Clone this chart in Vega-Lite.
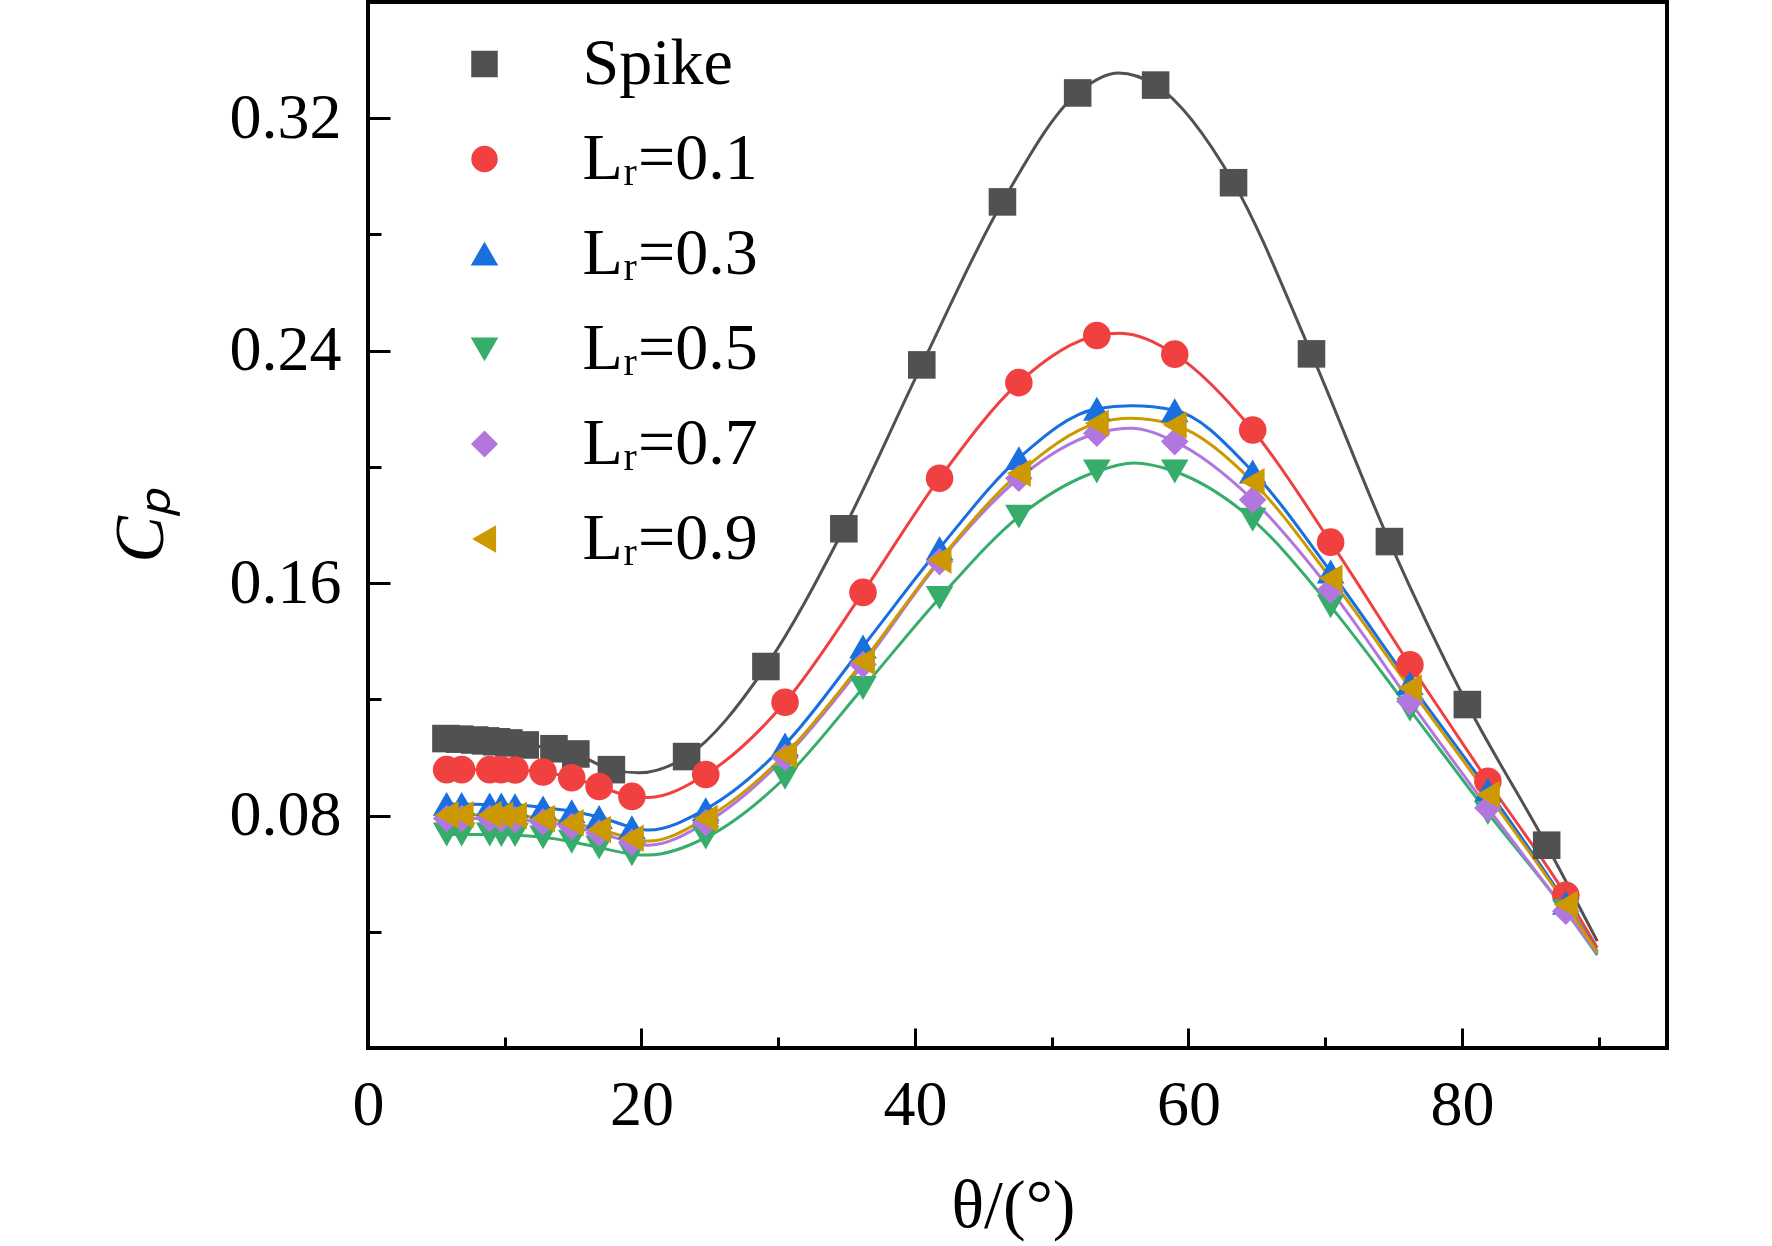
{
  "$schema": "https://vega.github.io/schema/vega-lite/v6.json",
  "description": "Pressure coefficient Cp against theta for the spike and five Lr cases",
  "width": 1299,
  "height": 1046,
  "autosize": "none",
  "padding": {"left": 368, "top": 2, "right": 105, "bottom": 198},
  "background": "white",
  "datasets": {
    "markers": [
      {"series": "Spike", "theta": 5.7, "cp": 0.1065},
      {"series": "Spike", "theta": 6.7, "cp": 0.1063},
      {"series": "Spike", "theta": 7.8, "cp": 0.1060},
      {"series": "Spike", "theta": 8.6, "cp": 0.1057},
      {"series": "Spike", "theta": 9.4, "cp": 0.1054},
      {"series": "Spike", "theta": 10.3, "cp": 0.1050},
      {"series": "Spike", "theta": 11.5, "cp": 0.1043},
      {"series": "Spike", "theta": 13.6, "cp": 0.1030},
      {"series": "Spike", "theta": 15.2, "cp": 0.1012},
      {"series": "Spike", "theta": 17.8, "cp": 0.0958},
      {"series": "Spike", "theta": 23.3, "cp": 0.1003},
      {"series": "Spike", "theta": 29.1, "cp": 0.1313},
      {"series": "Spike", "theta": 34.8, "cp": 0.1787},
      {"series": "Spike", "theta": 40.5, "cp": 0.2351},
      {"series": "Spike", "theta": 46.4, "cp": 0.2912},
      {"series": "Spike", "theta": 51.9, "cp": 0.3287},
      {"series": "Spike", "theta": 57.6, "cp": 0.3314},
      {"series": "Spike", "theta": 63.3, "cp": 0.2978},
      {"series": "Spike", "theta": 69.0, "cp": 0.2389},
      {"series": "Spike", "theta": 74.7, "cp": 0.1743},
      {"series": "Spike", "theta": 80.4, "cp": 0.1182},
      {"series": "Spike", "theta": 86.2, "cp": 0.0698},

      {"series": "Lᵣ=0.1", "theta": 5.75, "cp": 0.0958},
      {"series": "Lᵣ=0.1", "theta": 6.85, "cp": 0.0958},
      {"series": "Lᵣ=0.1", "theta": 8.9, "cp": 0.0958},
      {"series": "Lᵣ=0.1", "theta": 9.75, "cp": 0.0958},
      {"series": "Lᵣ=0.1", "theta": 10.75, "cp": 0.0957},
      {"series": "Lᵣ=0.1", "theta": 12.8, "cp": 0.0950},
      {"series": "Lᵣ=0.1", "theta": 14.9, "cp": 0.0930},
      {"series": "Lᵣ=0.1", "theta": 16.9, "cp": 0.0900},
      {"series": "Lᵣ=0.1", "theta": 19.3, "cp": 0.0866},
      {"series": "Lᵣ=0.1", "theta": 24.7, "cp": 0.0941},
      {"series": "Lᵣ=0.1", "theta": 30.5, "cp": 0.1190},
      {"series": "Lᵣ=0.1", "theta": 36.2, "cp": 0.1568},
      {"series": "Lᵣ=0.1", "theta": 41.8, "cp": 0.1961},
      {"series": "Lᵣ=0.1", "theta": 47.6, "cp": 0.2290},
      {"series": "Lᵣ=0.1", "theta": 53.3, "cp": 0.2452},
      {"series": "Lᵣ=0.1", "theta": 59.0, "cp": 0.2388},
      {"series": "Lᵣ=0.1", "theta": 64.7, "cp": 0.2127},
      {"series": "Lᵣ=0.1", "theta": 70.4, "cp": 0.1741},
      {"series": "Lᵣ=0.1", "theta": 76.2, "cp": 0.1319},
      {"series": "Lᵣ=0.1", "theta": 81.9, "cp": 0.0918},
      {"series": "Lᵣ=0.1", "theta": 87.6, "cp": 0.0526},

      {"series": "Lᵣ=0.3", "theta": 5.75, "cp": 0.0840},
      {"series": "Lᵣ=0.3", "theta": 6.85, "cp": 0.0840},
      {"series": "Lᵣ=0.3", "theta": 8.9, "cp": 0.0838},
      {"series": "Lᵣ=0.3", "theta": 9.75, "cp": 0.0838},
      {"series": "Lᵣ=0.3", "theta": 10.75, "cp": 0.0836},
      {"series": "Lᵣ=0.3", "theta": 12.8, "cp": 0.0828},
      {"series": "Lᵣ=0.3", "theta": 14.9, "cp": 0.0815},
      {"series": "Lᵣ=0.3", "theta": 16.9, "cp": 0.0795},
      {"series": "Lᵣ=0.3", "theta": 19.3, "cp": 0.0760},
      {"series": "Lᵣ=0.3", "theta": 24.7, "cp": 0.0822},
      {"series": "Lᵣ=0.3", "theta": 30.5, "cp": 0.1045},
      {"series": "Lᵣ=0.3", "theta": 36.2, "cp": 0.1382},
      {"series": "Lᵣ=0.3", "theta": 41.8, "cp": 0.1720},
      {"series": "Lᵣ=0.3", "theta": 47.6, "cp": 0.2030},
      {"series": "Lᵣ=0.3", "theta": 53.3, "cp": 0.2200},
      {"series": "Lᵣ=0.3", "theta": 59.0, "cp": 0.2195},
      {"series": "Lᵣ=0.3", "theta": 64.7, "cp": 0.1984},
      {"series": "Lᵣ=0.3", "theta": 70.4, "cp": 0.1640},
      {"series": "Lᵣ=0.3", "theta": 76.2, "cp": 0.1256},
      {"series": "Lᵣ=0.3", "theta": 81.9, "cp": 0.0889},
      {"series": "Lᵣ=0.3", "theta": 87.6, "cp": 0.0500},

      {"series": "Lᵣ=0.5", "theta": 5.75, "cp": 0.0735},
      {"series": "Lᵣ=0.5", "theta": 6.85, "cp": 0.0735},
      {"series": "Lᵣ=0.5", "theta": 8.9, "cp": 0.0735},
      {"series": "Lᵣ=0.5", "theta": 9.75, "cp": 0.0733},
      {"series": "Lᵣ=0.5", "theta": 10.75, "cp": 0.0733},
      {"series": "Lᵣ=0.5", "theta": 12.8, "cp": 0.0725},
      {"series": "Lᵣ=0.5", "theta": 14.9, "cp": 0.0710},
      {"series": "Lᵣ=0.5", "theta": 16.9, "cp": 0.0690},
      {"series": "Lᵣ=0.5", "theta": 19.3, "cp": 0.0667},
      {"series": "Lᵣ=0.5", "theta": 24.7, "cp": 0.0724},
      {"series": "Lᵣ=0.5", "theta": 30.5, "cp": 0.0930},
      {"series": "Lᵣ=0.5", "theta": 36.2, "cp": 0.1239},
      {"series": "Lᵣ=0.5", "theta": 41.8, "cp": 0.1549},
      {"series": "Lᵣ=0.5", "theta": 47.6, "cp": 0.1829},
      {"series": "Lᵣ=0.5", "theta": 53.3, "cp": 0.1984},
      {"series": "Lᵣ=0.5", "theta": 59.0, "cp": 0.1984},
      {"series": "Lᵣ=0.5", "theta": 64.7, "cp": 0.1818},
      {"series": "Lᵣ=0.5", "theta": 70.4, "cp": 0.1520},
      {"series": "Lᵣ=0.5", "theta": 76.2, "cp": 0.1164},
      {"series": "Lᵣ=0.5", "theta": 81.9, "cp": 0.0809},
      {"series": "Lᵣ=0.5", "theta": 87.6, "cp": 0.0471},

      {"series": "Lᵣ=0.7", "theta": 5.75, "cp": 0.0790},
      {"series": "Lᵣ=0.7", "theta": 6.85, "cp": 0.0790},
      {"series": "Lᵣ=0.7", "theta": 8.9, "cp": 0.0790},
      {"series": "Lᵣ=0.7", "theta": 9.75, "cp": 0.0788},
      {"series": "Lᵣ=0.7", "theta": 10.75, "cp": 0.0786},
      {"series": "Lᵣ=0.7", "theta": 12.8, "cp": 0.0778},
      {"series": "Lᵣ=0.7", "theta": 14.9, "cp": 0.0762},
      {"series": "Lᵣ=0.7", "theta": 16.9, "cp": 0.0740},
      {"series": "Lᵣ=0.7", "theta": 19.3, "cp": 0.0708},
      {"series": "Lᵣ=0.7", "theta": 24.7, "cp": 0.0775},
      {"series": "Lᵣ=0.7", "theta": 30.5, "cp": 0.1000},
      {"series": "Lᵣ=0.7", "theta": 36.2, "cp": 0.1320},
      {"series": "Lᵣ=0.7", "theta": 41.8, "cp": 0.1674},
      {"series": "Lᵣ=0.7", "theta": 47.6, "cp": 0.1961},
      {"series": "Lᵣ=0.7", "theta": 53.3, "cp": 0.2116},
      {"series": "Lᵣ=0.7", "theta": 59.0, "cp": 0.2087},
      {"series": "Lᵣ=0.7", "theta": 64.7, "cp": 0.1887},
      {"series": "Lᵣ=0.7", "theta": 70.4, "cp": 0.1576},
      {"series": "Lᵣ=0.7", "theta": 76.2, "cp": 0.1193},
      {"series": "Lᵣ=0.7", "theta": 81.9, "cp": 0.0826},
      {"series": "Lᵣ=0.7", "theta": 87.6, "cp": 0.0471},

      {"series": "Lᵣ=0.9", "theta": 5.75, "cp": 0.0803},
      {"series": "Lᵣ=0.9", "theta": 6.85, "cp": 0.0803},
      {"series": "Lᵣ=0.9", "theta": 8.9, "cp": 0.0803},
      {"series": "Lᵣ=0.9", "theta": 9.75, "cp": 0.0801},
      {"series": "Lᵣ=0.9", "theta": 10.75, "cp": 0.0800},
      {"series": "Lᵣ=0.9", "theta": 12.8, "cp": 0.0790},
      {"series": "Lᵣ=0.9", "theta": 14.9, "cp": 0.0775},
      {"series": "Lᵣ=0.9", "theta": 16.9, "cp": 0.0752},
      {"series": "Lᵣ=0.9", "theta": 19.3, "cp": 0.0722},
      {"series": "Lᵣ=0.9", "theta": 24.7, "cp": 0.0790},
      {"series": "Lᵣ=0.9", "theta": 30.5, "cp": 0.1010},
      {"series": "Lᵣ=0.9", "theta": 36.2, "cp": 0.1330},
      {"series": "Lᵣ=0.9", "theta": 41.8, "cp": 0.1680},
      {"series": "Lᵣ=0.9", "theta": 47.6, "cp": 0.1978},
      {"series": "Lᵣ=0.9", "theta": 53.3, "cp": 0.2150},
      {"series": "Lᵣ=0.9", "theta": 59.0, "cp": 0.2144},
      {"series": "Lᵣ=0.9", "theta": 64.7, "cp": 0.1949},
      {"series": "Lᵣ=0.9", "theta": 70.4, "cp": 0.1617},
      {"series": "Lᵣ=0.9", "theta": 76.2, "cp": 0.1239},
      {"series": "Lᵣ=0.9", "theta": 81.9, "cp": 0.0872},
      {"series": "Lᵣ=0.9", "theta": 87.6, "cp": 0.0494}
    ],
    "curves": [
      {"series": "Spike", "theta": 5.7, "cp": 0.1065},
      {"series": "Spike", "theta": 7.8, "cp": 0.1060},
      {"series": "Spike", "theta": 9.4, "cp": 0.1054},
      {"series": "Spike", "theta": 11.5, "cp": 0.1043},
      {"series": "Spike", "theta": 13.6, "cp": 0.1030},
      {"series": "Spike", "theta": 15.2, "cp": 0.1012},
      {"series": "Spike", "theta": 17.8, "cp": 0.0958},
      {"series": "Spike", "theta": 19.8, "cp": 0.0947},
      {"series": "Spike", "theta": 23.3, "cp": 0.1003},
      {"series": "Spike", "theta": 29.1, "cp": 0.1313},
      {"series": "Spike", "theta": 34.8, "cp": 0.1787},
      {"series": "Spike", "theta": 40.5, "cp": 0.2351},
      {"series": "Spike", "theta": 46.4, "cp": 0.2912},
      {"series": "Spike", "theta": 51.9, "cp": 0.3287},
      {"series": "Spike", "theta": 54.9, "cp": 0.3356},
      {"series": "Spike", "theta": 57.6, "cp": 0.3314},
      {"series": "Spike", "theta": 63.3, "cp": 0.2978},
      {"series": "Spike", "theta": 69.0, "cp": 0.2389},
      {"series": "Spike", "theta": 74.7, "cp": 0.1743},
      {"series": "Spike", "theta": 80.4, "cp": 0.1182},
      {"series": "Spike", "theta": 86.2, "cp": 0.0698},
      {"series": "Spike", "theta": 89.9, "cp": 0.0368},

      {"series": "Lᵣ=0.1", "theta": 5.75, "cp": 0.0958},
      {"series": "Lᵣ=0.1", "theta": 8.9, "cp": 0.0958},
      {"series": "Lᵣ=0.1", "theta": 10.75, "cp": 0.0957},
      {"series": "Lᵣ=0.1", "theta": 12.8, "cp": 0.0950},
      {"series": "Lᵣ=0.1", "theta": 14.9, "cp": 0.0930},
      {"series": "Lᵣ=0.1", "theta": 16.9, "cp": 0.0900},
      {"series": "Lᵣ=0.1", "theta": 19.3, "cp": 0.0866},
      {"series": "Lᵣ=0.1", "theta": 20.5, "cp": 0.0862},
      {"series": "Lᵣ=0.1", "theta": 24.7, "cp": 0.0941},
      {"series": "Lᵣ=0.1", "theta": 30.5, "cp": 0.1190},
      {"series": "Lᵣ=0.1", "theta": 36.2, "cp": 0.1568},
      {"series": "Lᵣ=0.1", "theta": 41.8, "cp": 0.1961},
      {"series": "Lᵣ=0.1", "theta": 47.6, "cp": 0.2290},
      {"series": "Lᵣ=0.1", "theta": 53.3, "cp": 0.2452},
      {"series": "Lᵣ=0.1", "theta": 55.0, "cp": 0.2460},
      {"series": "Lᵣ=0.1", "theta": 59.0, "cp": 0.2388},
      {"series": "Lᵣ=0.1", "theta": 64.7, "cp": 0.2127},
      {"series": "Lᵣ=0.1", "theta": 70.4, "cp": 0.1741},
      {"series": "Lᵣ=0.1", "theta": 76.2, "cp": 0.1319},
      {"series": "Lᵣ=0.1", "theta": 81.9, "cp": 0.0918},
      {"series": "Lᵣ=0.1", "theta": 87.6, "cp": 0.0526},
      {"series": "Lᵣ=0.1", "theta": 89.9, "cp": 0.0345},

      {"series": "Lᵣ=0.3", "theta": 5.75, "cp": 0.0840},
      {"series": "Lᵣ=0.3", "theta": 8.9, "cp": 0.0838},
      {"series": "Lᵣ=0.3", "theta": 10.75, "cp": 0.0836},
      {"series": "Lᵣ=0.3", "theta": 12.8, "cp": 0.0828},
      {"series": "Lᵣ=0.3", "theta": 14.9, "cp": 0.0815},
      {"series": "Lᵣ=0.3", "theta": 16.9, "cp": 0.0795},
      {"series": "Lᵣ=0.3", "theta": 19.3, "cp": 0.0760},
      {"series": "Lᵣ=0.3", "theta": 20.5, "cp": 0.0750},
      {"series": "Lᵣ=0.3", "theta": 24.7, "cp": 0.0822},
      {"series": "Lᵣ=0.3", "theta": 30.5, "cp": 0.1045},
      {"series": "Lᵣ=0.3", "theta": 36.2, "cp": 0.1382},
      {"series": "Lᵣ=0.3", "theta": 41.8, "cp": 0.1720},
      {"series": "Lᵣ=0.3", "theta": 47.6, "cp": 0.2030},
      {"series": "Lᵣ=0.3", "theta": 53.3, "cp": 0.2200},
      {"series": "Lᵣ=0.3", "theta": 55.8, "cp": 0.2210},
      {"series": "Lᵣ=0.3", "theta": 59.0, "cp": 0.2195},
      {"series": "Lᵣ=0.3", "theta": 64.7, "cp": 0.1984},
      {"series": "Lᵣ=0.3", "theta": 70.4, "cp": 0.1640},
      {"series": "Lᵣ=0.3", "theta": 76.2, "cp": 0.1256},
      {"series": "Lᵣ=0.3", "theta": 81.9, "cp": 0.0889},
      {"series": "Lᵣ=0.3", "theta": 87.6, "cp": 0.0500},
      {"series": "Lᵣ=0.3", "theta": 89.9, "cp": 0.0333},

      {"series": "Lᵣ=0.5", "theta": 5.75, "cp": 0.0735},
      {"series": "Lᵣ=0.5", "theta": 8.9, "cp": 0.0735},
      {"series": "Lᵣ=0.5", "theta": 10.75, "cp": 0.0733},
      {"series": "Lᵣ=0.5", "theta": 12.8, "cp": 0.0725},
      {"series": "Lᵣ=0.5", "theta": 14.9, "cp": 0.0710},
      {"series": "Lᵣ=0.5", "theta": 16.9, "cp": 0.0690},
      {"series": "Lᵣ=0.5", "theta": 19.3, "cp": 0.0667},
      {"series": "Lᵣ=0.5", "theta": 20.5, "cp": 0.0664},
      {"series": "Lᵣ=0.5", "theta": 24.7, "cp": 0.0724},
      {"series": "Lᵣ=0.5", "theta": 30.5, "cp": 0.0930},
      {"series": "Lᵣ=0.5", "theta": 36.2, "cp": 0.1239},
      {"series": "Lᵣ=0.5", "theta": 41.8, "cp": 0.1549},
      {"series": "Lᵣ=0.5", "theta": 47.6, "cp": 0.1829},
      {"series": "Lᵣ=0.5", "theta": 53.3, "cp": 0.1984},
      {"series": "Lᵣ=0.5", "theta": 56.0, "cp": 0.2013},
      {"series": "Lᵣ=0.5", "theta": 59.0, "cp": 0.1984},
      {"series": "Lᵣ=0.5", "theta": 64.7, "cp": 0.1818},
      {"series": "Lᵣ=0.5", "theta": 70.4, "cp": 0.1520},
      {"series": "Lᵣ=0.5", "theta": 76.2, "cp": 0.1164},
      {"series": "Lᵣ=0.5", "theta": 81.9, "cp": 0.0809},
      {"series": "Lᵣ=0.5", "theta": 87.6, "cp": 0.0471},
      {"series": "Lᵣ=0.5", "theta": 89.9, "cp": 0.0320},

      {"series": "Lᵣ=0.7", "theta": 5.75, "cp": 0.0790},
      {"series": "Lᵣ=0.7", "theta": 8.9, "cp": 0.0790},
      {"series": "Lᵣ=0.7", "theta": 10.75, "cp": 0.0786},
      {"series": "Lᵣ=0.7", "theta": 12.8, "cp": 0.0778},
      {"series": "Lᵣ=0.7", "theta": 14.9, "cp": 0.0762},
      {"series": "Lᵣ=0.7", "theta": 16.9, "cp": 0.0740},
      {"series": "Lᵣ=0.7", "theta": 19.3, "cp": 0.0708},
      {"series": "Lᵣ=0.7", "theta": 20.5, "cp": 0.0698},
      {"series": "Lᵣ=0.7", "theta": 24.7, "cp": 0.0775},
      {"series": "Lᵣ=0.7", "theta": 30.5, "cp": 0.1000},
      {"series": "Lᵣ=0.7", "theta": 36.2, "cp": 0.1320},
      {"series": "Lᵣ=0.7", "theta": 41.8, "cp": 0.1674},
      {"series": "Lᵣ=0.7", "theta": 47.6, "cp": 0.1961},
      {"series": "Lᵣ=0.7", "theta": 53.3, "cp": 0.2116},
      {"series": "Lᵣ=0.7", "theta": 55.8, "cp": 0.2133},
      {"series": "Lᵣ=0.7", "theta": 59.0, "cp": 0.2087},
      {"series": "Lᵣ=0.7", "theta": 64.7, "cp": 0.1887},
      {"series": "Lᵣ=0.7", "theta": 70.4, "cp": 0.1576},
      {"series": "Lᵣ=0.7", "theta": 76.2, "cp": 0.1193},
      {"series": "Lᵣ=0.7", "theta": 81.9, "cp": 0.0826},
      {"series": "Lᵣ=0.7", "theta": 87.6, "cp": 0.0471},
      {"series": "Lᵣ=0.7", "theta": 89.9, "cp": 0.0325},

      {"series": "Lᵣ=0.9", "theta": 5.75, "cp": 0.0803},
      {"series": "Lᵣ=0.9", "theta": 8.9, "cp": 0.0803},
      {"series": "Lᵣ=0.9", "theta": 10.75, "cp": 0.0800},
      {"series": "Lᵣ=0.9", "theta": 12.8, "cp": 0.0790},
      {"series": "Lᵣ=0.9", "theta": 14.9, "cp": 0.0775},
      {"series": "Lᵣ=0.9", "theta": 16.9, "cp": 0.0752},
      {"series": "Lᵣ=0.9", "theta": 19.3, "cp": 0.0722},
      {"series": "Lᵣ=0.9", "theta": 20.5, "cp": 0.0712},
      {"series": "Lᵣ=0.9", "theta": 24.7, "cp": 0.0790},
      {"series": "Lᵣ=0.9", "theta": 30.5, "cp": 0.1010},
      {"series": "Lᵣ=0.9", "theta": 36.2, "cp": 0.1330},
      {"series": "Lᵣ=0.9", "theta": 41.8, "cp": 0.1680},
      {"series": "Lᵣ=0.9", "theta": 47.6, "cp": 0.1978},
      {"series": "Lᵣ=0.9", "theta": 53.3, "cp": 0.2150},
      {"series": "Lᵣ=0.9", "theta": 55.8, "cp": 0.2167},
      {"series": "Lᵣ=0.9", "theta": 59.0, "cp": 0.2144},
      {"series": "Lᵣ=0.9", "theta": 64.7, "cp": 0.1949},
      {"series": "Lᵣ=0.9", "theta": 70.4, "cp": 0.1617},
      {"series": "Lᵣ=0.9", "theta": 76.2, "cp": 0.1239},
      {"series": "Lᵣ=0.9", "theta": 81.9, "cp": 0.0872},
      {"series": "Lᵣ=0.9", "theta": 87.6, "cp": 0.0494},
      {"series": "Lᵣ=0.9", "theta": 89.9, "cp": 0.0330}
    ]
  },
  "layer": [
    {
      "data": {"name": "curves"},
      "mark": {"type": "line", "interpolate": "monotone", "strokeWidth": 3},
      "encoding": {
        "x": {
          "field": "theta",
          "type": "quantitative",
          "scale": {"domain": [0, 95], "nice": false, "zero": false},
          "axis": {
            "orient": "bottom",
            "values": [0, 20, 40, 60, 80],
            "format": "d",
            "tickSize": -20,
            "labelPadding": 45,
            "labelFlush": false,
            "title": "θ/(°)",
            "titleX": 645,
            "titleY": 178,
            "titleBaseline": "alphabetic",
            "titleFontSize": 68
          }
        },
        "y": {
          "field": "cp",
          "type": "quantitative",
          "scale": {"domain": [0, 0.36], "nice": false, "zero": false},
          "axis": {
            "orient": "left",
            "values": [0.08, 0.16, 0.24, 0.32],
            "format": ".2f",
            "tickSize": -22,
            "labelPadding": 49,
            "labelFlush": false,
            "title": "Cₚ",
            "titleFontStyle": "italic",
            "titleFontSize": 70,
            "titleAngle": -90,
            "titleX": -206,
            "titleY": 523,
            "titleAlign": "center",
            "titleBaseline": "alphabetic"
          }
        },
        "stroke": {
          "field": "series",
          "type": "nominal",
          "scale": {
            "domain": ["Spike", "Lᵣ=0.1", "Lᵣ=0.3", "Lᵣ=0.5", "Lᵣ=0.7", "Lᵣ=0.9"],
            "range": ["#515151", "#F14040", "#1A6FDF", "#37AD6B", "#B177DE", "#CC9900"]
          },
          "legend": {
            "orient": "none", "legendX": 83.5, "legendY": 29, "title": null, "padding": 0,
            "symbolSize": 625, "symbolOpacity": 1,
            "labelFont": "Liberation Serif", "labelFontSize": 66, "labelColor": "black",
            "labelOffset": 65, "labelLimit": 500, "rowPadding": 29
          }
        }
      }
    },
    {
      "data": {"name": "markers"},
      "mark": {"type": "point", "filled": true, "opacity": 1, "size": 760},
      "encoding": {
        "x": {
          "field": "theta",
          "type": "quantitative",
          "axis": {
            "orient": "bottom",
            "values": [10, 30, 50, 70, 90],
            "tickSize": -11,
            "labels": false,
            "title": null
          }
        },
        "y": {
          "field": "cp",
          "type": "quantitative",
          "axis": {
            "orient": "left",
            "values": [0.04, 0.12, 0.2, 0.28],
            "tickSize": -13,
            "labels": false,
            "title": null
          }
        },
        "color": {
          "field": "series",
          "type": "nominal",
          "scale": {
            "domain": ["Spike", "Lᵣ=0.1", "Lᵣ=0.3", "Lᵣ=0.5", "Lᵣ=0.7", "Lᵣ=0.9"],
            "range": ["#515151", "#F14040", "#1A6FDF", "#37AD6B", "#B177DE", "#CC9900"]
          },
          "legend": {
            "orient": "none", "legendX": 83.5, "legendY": 29, "title": null, "padding": 0,
            "symbolSize": 625, "symbolOpacity": 1,
            "labelFont": "Liberation Serif", "labelFontSize": 66, "labelColor": "black",
            "labelOffset": 65, "labelLimit": 500, "rowPadding": 29
          }
        },
        "shape": {
          "field": "series",
          "type": "nominal",
          "scale": {
            "domain": ["Spike", "Lᵣ=0.1", "Lᵣ=0.3", "Lᵣ=0.5", "Lᵣ=0.7", "Lᵣ=0.9"],
            "range": ["square", "circle", "triangle-up", "triangle-down", "diamond", "triangle-left"]
          },
          "legend": {
            "orient": "none", "legendX": 83.5, "legendY": 29, "title": null, "padding": 0,
            "symbolSize": 625, "symbolOpacity": 1,
            "labelFont": "Liberation Serif", "labelFontSize": 66, "labelColor": "black",
            "labelOffset": 65, "labelLimit": 500, "rowPadding": 29
          }
        }
      }
    }
  ],
  "resolve": {
    "axis": {"x": "independent", "y": "independent"}
  },
  "config": {
    "view": {"stroke": "black", "strokeWidth": 4},
    "font": "Liberation Serif",
    "axis": {
      "domain": false,
      "grid": false,
      "ticks": true,
      "tickColor": "black",
      "tickWidth": 3,
      "labelFont": "Liberation Serif",
      "labelFontSize": 64,
      "labelColor": "black",
      "titleFont": "Liberation Serif",
      "titleFontWeight": "normal",
      "titleColor": "black"
    }
  }
}
